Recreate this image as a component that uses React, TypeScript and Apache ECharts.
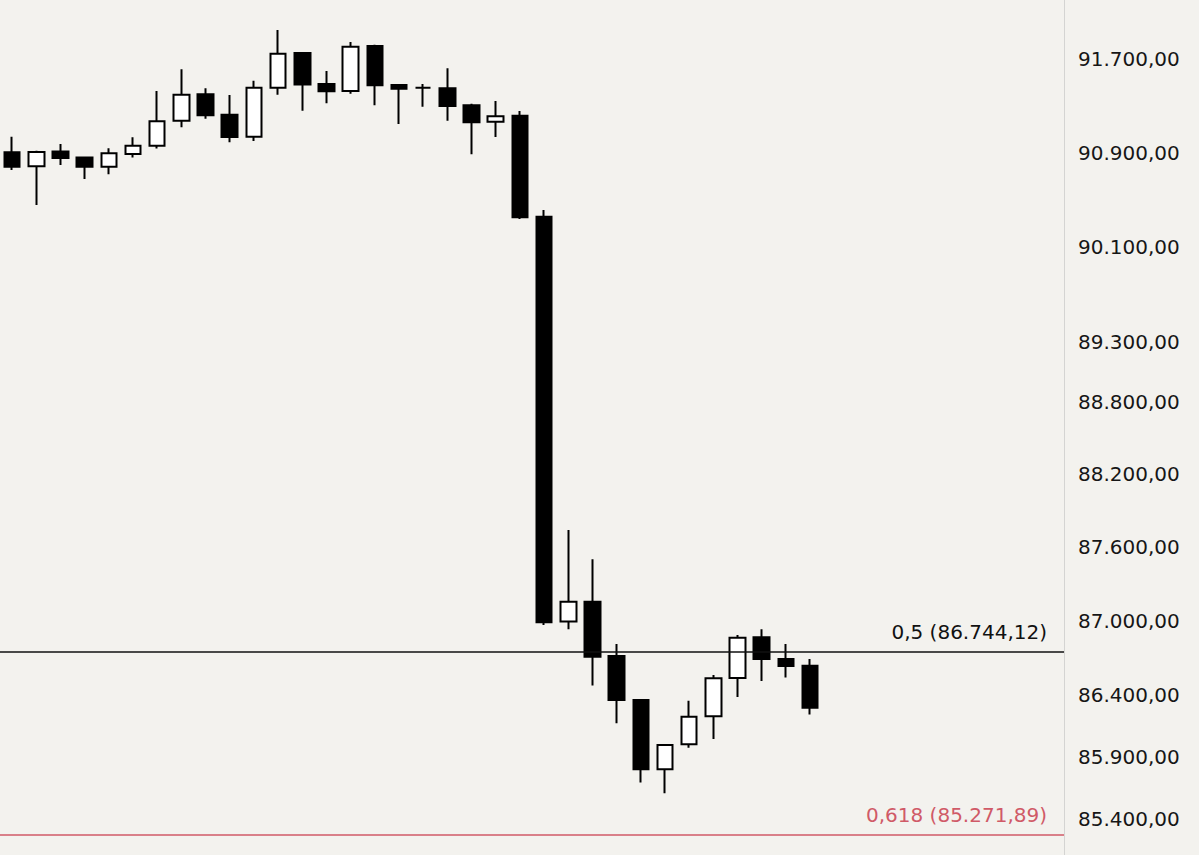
import React, { useEffect, useRef } from 'react';
import * as echarts from 'echarts';

// ---- data ----
const slotCount = 44; // 34 candles + empty space on the right
const categories: string[] = Array.from({ length: slotCount }, (_, i) => String(i + 1));

const opens = [90902, 90784, 90908, 90857, 90780, 90888, 90958, 91171, 91397, 91223, 91035, 91454, 91752, 91486, 91426, 91812, 91477, 91454, 91449, 91303, 91163, 91214, 90355, 86993, 87155, 86714, 86357, 85798, 86000, 86226, 86535, 86866, 86689, 86635];
const closes = [90780, 90905, 90854, 90780, 90894, 90958, 91167, 91394, 91218, 91033, 91454, 91746, 91481, 91423, 91806, 91474, 91445, 91454, 91297, 91158, 91209, 90350, 86988, 87155, 86708, 86357, 85798, 85994, 86222, 86533, 86862, 86689, 86633, 86294];
const lows = [90751, 90455, 90794, 90676, 90715, 90857, 90934, 91115, 91189, 90987, 90999, 91394, 91257, 91320, 91402, 91303, 91143, 91291, 91171, 90885, 91033, 90336, 86966, 86931, 86473, 86169, 85691, 85606, 85972, 86042, 86380, 86511, 86538, 86240];
const highs = [91035, 90916, 90973, 90863, 90936, 91030, 91426, 91612, 91449, 91391, 91514, 91949, 91758, 91597, 91846, 91823, 91477, 91486, 91620, 91317, 91340, 91254, 90412, 87743, 87502, 86811, 86365, 86002, 86351, 86559, 86884, 86931, 86811, 86689];

const tickValues = [91700, 90900, 90100, 89300, 88800, 88200, 87600, 87000, 86400, 85900, 85400];
const fibRatios = ['0,5', '0,618'];
const fibValues = [86744.12, 85271.89];

const yMin = 85112;
const yMax = 92208;

function fmt(v: number): string {
  const fixed = v.toFixed(2);
  const [intPart, dec] = fixed.split('.');
  return intPart.replace(/\B(?=(\d{3})+(?!\d))/g, '.') + ',' + dec;
}

const FONT = '"DejaVu Sans", sans-serif';
const fibColors = ['#111111', '#d05a67'];

export default function App() {
  const ref = useRef<HTMLDivElement>(null);
  useEffect(() => {
    if (!ref.current) return;
    const chart = echarts.init(ref.current, undefined, { renderer: 'svg' });
    const candleData = opens.map((o, i) => [o, closes[i], lows[i], highs[i]]);

    const tickMarks = tickValues.map((v) => ({
      yAxis: v,
      lineStyle: { color: 'rgba(0,0,0,0)', width: 1, opacity: 1 },
      label: {
        show: true,
        position: 'end',
        distance: 14,
        formatter: fmt(v),
        color: '#161616',
        fontSize: 20,
        fontFamily: FONT,
        opacity: 1,
      },
    }));
    const fibMarks = fibValues.map((v, i) => ({
      yAxis: v,
      lineStyle: { color: fibColors[i], width: 1.5, type: 'solid', opacity: 1 },
      label: {
        show: true,
        position: 'insideEndTop',
        distance: [17, 10],
        formatter: `${fibRatios[i]} (${fmt(v)})`,
        color: fibColors[i],
        fontSize: 20,
        fontFamily: FONT,
      },
    }));

    chart.setOption({
      animation: false,
      backgroundColor: '#f3f2ee',
      grid: { left: 0, right: 135, top: 0, bottom: 0, containLabel: false },
      xAxis: {
        type: 'category',
        data: categories,
        boundaryGap: true,
        axisLine: { show: false },
        axisTick: { show: false },
        axisLabel: { show: false },
        splitLine: { show: false },
      },
      yAxis: {
        type: 'log',
        position: 'right',
        min: yMin,
        max: yMax,
        axisLine: { show: true, lineStyle: { color: '#d4d4d2', width: 1 } },
        axisTick: { show: false },
        axisLabel: { show: false },
        splitLine: { show: false },
      },
      series: [
        {
          type: 'candlestick',
          data: candleData,
          barWidth: 16,
          clip: false,
          itemStyle: {
            color: '#ffffff',
            color0: '#000000',
            borderColor: '#000000',
            borderColor0: '#000000',
            borderColorDoji: '#000000',
            borderWidth: 2,
          },
          markLine: {
            silent: true,
            symbol: ['none', 'none'],
            animation: false,
            data: [...tickMarks, ...fibMarks],
          },
        },
      ],
    });
    return () => chart.dispose();
  }, []);
  return (
    <div
      ref={ref}
      style={{ position: 'fixed', left: 0, top: 0, width: 1199, height: 855, background: '#f3f2ee' }}
    />
  );
}
